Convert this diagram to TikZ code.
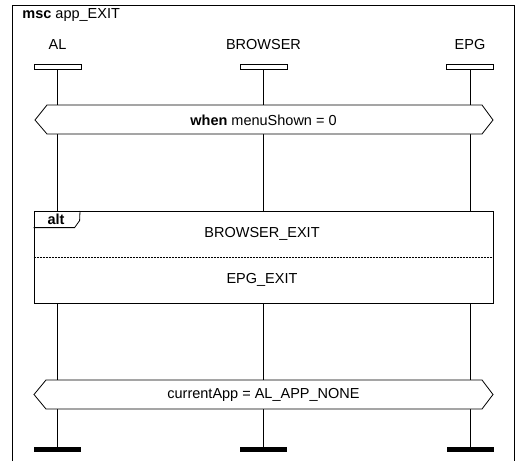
\documentclass[tikz,border=0pt]{standalone}
\usepackage{fontspec}
\setmainfont{Liberation Sans}
\begin{document}
\begin{tikzpicture}[x=1pt,y=-1pt,line width=0.8pt,
  lbl/.style={inner sep=0pt,font=\fontsize{14.5}{16}\selectfont},
  headbox/.style={draw,fill=white,minimum width=47pt,minimum height=5pt,inner sep=0pt},
  endbar/.style={fill=black,minimum width=47pt,minimum height=5pt,inner sep=0pt},
  cond/.style={draw,fill=white},
  sep/.style={dash pattern=on 2pt off 1pt,line width=0.7pt}]
\useasboundingbox (0,0) rectangle (518,461);
\fill[white] (0,0) rectangle (518,461);
% frame
\draw (12,461) -- (12,5) -- (514,5) -- (514,461);
\node[lbl,anchor=west] (title) at (22,15) {\textbf{msc} app\_EXIT};
% instances
\node[lbl] (al) at (57.5,45) {AL};
\node[lbl] (br) at (263.5,45) {BROWSER};
\node[lbl] (epg) at (470,45) {EPG};
\node[headbox] (alh) at (57.5,66.5) {};
\node[headbox] (brh) at (263.5,66.5) {};
\node[headbox] (epgh) at (470,66.5) {};
\node[endbar] (ale) at (57.5,449.5) {};
\node[endbar] (bre) at (263.5,449.5) {};
\node[endbar] (epge) at (470,449.5) {};
\draw (alh.south) -- (ale.north);
\draw (brh.south) -- (bre.north);
\draw (epgh.south) -- (epge.north);
% condition 1
\draw[cond] (35,120) -- (47,105) -- (482,105) -- (493,120) -- (482,134) -- (47,134) -- cycle;
\node[lbl] (c1) at (263.5,120) {\textbf{when} menuShown = 0};
% alt box
\node[draw,fill=white,minimum width=459pt,minimum height=92pt,inner sep=0pt] (alt) at (263.5,257) {};
\draw[sep] (alt.west) -- (alt.east);
\draw (alt.north west) ++(0,17) -- ++(41,0) -- ++(5,-7) -- (80,211);
\node[lbl] (altl) at (56,219) {\textbf{alt}};
\node[lbl] (o1) at (262,234) {BROWSER\_EXIT};
\node[lbl] (o2) at (262,280) {EPG\_EXIT};
% condition 2
\draw[cond] (34,394.5) -- (46,380) -- (482,380) -- (493,394.5) -- (482,409) -- (46,409) -- cycle;
\node[lbl] (c2) at (263.5,394.5) {currentApp = AL\_APP\_NONE};
\end{tikzpicture}
\end{document}
